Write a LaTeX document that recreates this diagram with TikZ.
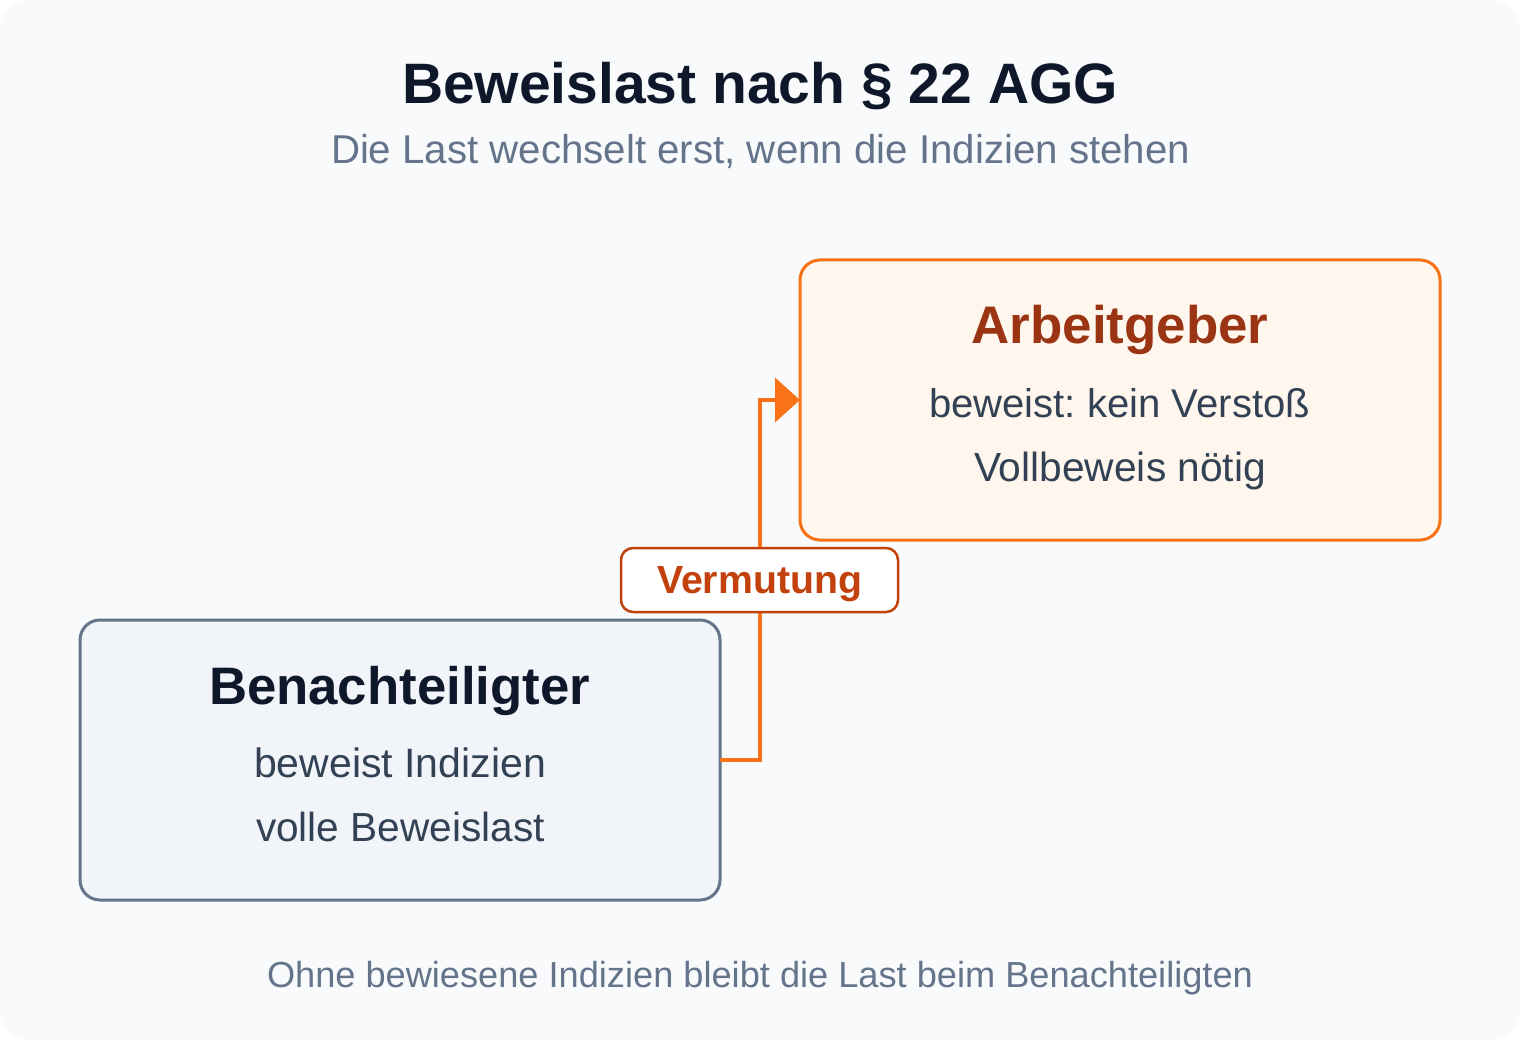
\documentclass[tikz,border=0pt]{standalone}
\usepackage{fontspec}
\setmainfont{Liberation Sans}
\usetikzlibrary{arrows.meta}
\frenchspacing
\definecolor{pagebg}{HTML}{F8FAFC}
\definecolor{titlec}{HTML}{0F172A}
\definecolor{mutedc}{HTML}{64748B}
\definecolor{bodyc}{HTML}{334155}
\definecolor{arbtext}{HTML}{9A3412}
\definecolor{vermc}{HTML}{C2410C}
\definecolor{orangec}{HTML}{F97316}
\definecolor{arbfill}{HTML}{FFF7ED}
\definecolor{benfill}{HTML}{F1F5F9}
\newlength\fitw
\newcommand\fittext[3]{%
  \settowidth\fitw{#1\fontsize{10pt}{12pt}\selectfont #3}%
  \pgfmathsetmacro\fitsize{10*#2/\fitw}%
  {#1\fontsize{\fitsize pt}{\fitsize pt}\selectfont #3}}
\tikzset{
  card/.style={rounded corners=20pt, line width=3pt, outer sep=0pt, inner sep=0pt,
    minimum width=640pt, minimum height=280pt},
  txt/.style={anchor=base, inner sep=0pt, outer sep=0pt},
  conn/.style={draw=orangec, line width=4pt, -{Triangle[length=25pt,width=44pt]}},
  labelbox/.style={draw=vermc, fill=white, line width=2.5pt, rounded corners=12pt,
    minimum width=277pt, minimum height=64pt, inner sep=0pt, outer sep=0pt}
}
\begin{document}
\begin{tikzpicture}[x=1pt,y=-1pt]
\useasboundingbox (0,0) rectangle (1520,1040);
\fill[white] (0,0) rectangle (1520,1040);
\fill[pagebg, rounded corners=28pt] (0,0) rectangle (1520,1040);

\node[txt, text=titlec] (title) at (760,104) {\fittext{\bfseries}{716}{Beweislast nach § 22 AGG}};
\node[txt, text=mutedc] (subtitle) at (760.5,164) {\fittext{}{859}{Die Last wechselt erst, wenn die Indizien stehen}};

\node[card, draw=orangec, fill=arbfill] (arb) at (1120,400) {};
\node[card, draw=mutedc, fill=benfill] (ben) at (400,760) {};

\node[txt, text=arbtext] (arbhead) at (1120,344) {\fittext{\bfseries}{297}{Arbeitgeber}};
\node[txt, text=bodyc] (arbl1) at (1119.5,417) {\fittext{}{381}{beweist: kein Verstoß}};
\node[txt, text=bodyc] (arbl2) at (1120,481) {\fittext{}{292}{Vollbeweis nötig}};

\node[txt, text=titlec] (benhead) at (399.5,704) {\fittext{\bfseries}{381}{Benachteiligter}};
\node[txt, text=bodyc] (benl1) at (400,777) {\fittext{}{292}{beweist Indizien}};
\node[txt, text=bodyc] (benl2) at (400.5,841) {\fittext{}{289}{volle Beweislast}};

\draw[conn] (ben.east) -- ++(40,0) |- (arb.west);

\node[labelbox] (vbox) at (759.5,580) {};
\node[txt, text=vermc] (vtext) at (759.5,593) {\fittext{\bfseries}{205}{Vermutung}};

\node[txt, text=mutedc] (footer) at (760,987) {\fittext{}{986}{Ohne bewiesene Indizien bleibt die Last beim Benachteiligten}};
\end{tikzpicture}
\end{document}
